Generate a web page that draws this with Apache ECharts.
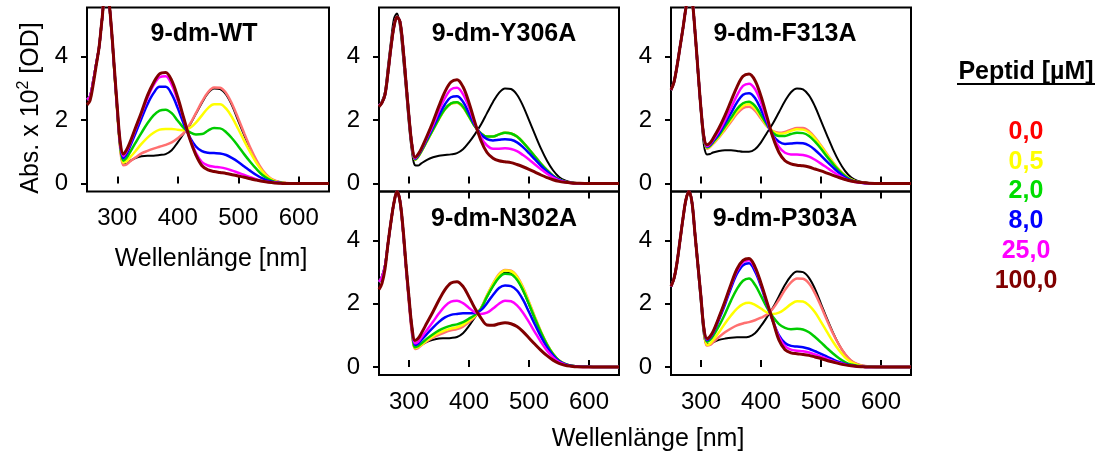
<!DOCTYPE html>
<html>
<head>
<meta charset="utf-8">
<script src="https://cdn.jsdelivr.net/npm/echarts@6/dist/echarts.min.js"></script>
<style>
  html, body { margin: 0; padding: 0; background: #fff; }
  #show_picture { width: 1100px; height: 455px; }
</style>
</head>
<body>
<div id="show_picture"></div>
<script>
// wavelength grid [nm]
const WL = [250, 255, 260, 265, 270, 275, 280, 285, 290, 295, 300, 305,
  310, 315, 320, 330, 340, 350, 360, 370, 380, 390, 400, 410, 420, 430, 440, 450, 460, 470,
  480, 490, 500, 510, 520, 530, 540, 550, 560, 570, 580, 600, 620, 650];

const PANELS = ['9-dm-WT', '9-dm-Y306A', '9-dm-F313A', '9-dm-N302A', '9-dm-P303A'];
const PEPTID = ['0,0', '0,5', '2,0', '8,0', '25,0', '100,0'];
const X_TICKS = [300, 400, 500, 600];
const Y_TICKS = [0, 2, 4];

// 9-dm-WT
const wtRef = [2.65, 2.75, 3.2, 3.75, 4.3, 5.2, 5.9, 5.85, 4.95, 3.6, 2.25, 1.1,
  0.62, 0.62, 0.7, 0.8, 0.86, 0.88, 0.88, 0.9, 0.93, 1.05, 1.3, 1.58, 1.85, 2.2, 2.55, 2.85, 3.0, 2.98,
  2.8, 2.45, 1.98, 1.52, 1.08, 0.7, 0.4, 0.2, 0.09, 0.04, 0.02, 0.01, 0, 0];
const wt0 = [2.65, 2.75, 3.2, 3.75, 4.3, 5.2, 5.9, 5.85, 4.95, 3.6, 2.25, 1.08,
  0.58, 0.6, 0.68, 0.82, 0.95, 1.03, 1.1, 1.16, 1.22, 1.3, 1.43, 1.6, 1.87, 2.22, 2.58, 2.88, 3.03, 3.02,
  2.85, 2.5, 2.05, 1.58, 1.13, 0.74, 0.43, 0.22, 0.1, 0.04, 0.02, 0.01, 0, 0];
const wt05 = [2.65, 2.75, 3.2, 3.75, 4.3, 5.2, 5.9, 5.85, 4.95, 3.6, 2.3, 1.15,
  0.66, 0.7, 0.8, 1.02, 1.25, 1.45, 1.6, 1.7, 1.72, 1.72, 1.7, 1.68, 1.75, 1.92, 2.15, 2.38, 2.5, 2.5,
  2.36, 2.08, 1.72, 1.34, 0.98, 0.65, 0.38, 0.19, 0.08, 0.03, 0.01, 0, 0, 0];
const wt2 = [2.65, 2.75, 3.2, 3.75, 4.3, 5.2, 5.9, 5.85, 4.95, 3.62, 2.32, 1.18,
  0.72, 0.8, 0.95, 1.28, 1.6, 1.9, 2.15, 2.3, 2.33, 2.22, 1.98, 1.75, 1.62, 1.55, 1.56, 1.67, 1.75, 1.74,
  1.62, 1.42, 1.18, 0.92, 0.68, 0.46, 0.27, 0.14, 0.06, 0.03, 0.01, 0, 0, 0];
const wt8 = [2.65, 2.75, 3.2, 3.75, 4.3, 5.2, 5.9, 5.85, 4.95, 3.65, 2.35, 1.22,
  0.8, 0.92, 1.12, 1.58, 2.05, 2.5, 2.85, 3.05, 3.05, 2.82, 2.38, 1.88, 1.46, 1.17, 1.02, 0.97, 0.96, 0.95,
  0.9, 0.8, 0.68, 0.54, 0.4, 0.27, 0.16, 0.08, 0.04, 0.02, 0.01, 0, 0, 0];
const wt25 = [2.65, 2.75, 3.2, 3.75, 4.3, 5.2, 5.9, 5.85, 4.95, 3.65, 2.38, 1.25,
  0.87, 1.0, 1.2, 1.7, 2.2, 2.7, 3.1, 3.35, 3.38, 3.12, 2.62, 2.02, 1.42, 0.97, 0.68, 0.57, 0.53, 0.51,
  0.47, 0.41, 0.34, 0.27, 0.2, 0.13, 0.08, 0.05, 0.03, 0.01, 0, 0, 0, 0];
const wt100 = [2.48, 2.62, 3.1, 3.7, 4.3, 5.2, 5.9, 5.85, 4.98, 3.7, 2.42, 1.3,
  0.93, 1.05, 1.25, 1.75, 2.25, 2.78, 3.18, 3.46, 3.5, 3.25, 2.72, 2.06, 1.4, 0.9, 0.56, 0.43, 0.38, 0.35,
  0.32, 0.28, 0.24, 0.2, 0.15, 0.11, 0.07, 0.04, 0.02, 0.01, 0, 0, 0, 0];

// 9-dm-Y306A
const yRef = [2.45, 2.6, 2.9, 3.7, 4.5, 5.2, 5.36, 4.95, 4.0, 2.95, 1.85, 1.0,
  0.58, 0.57, 0.63, 0.75, 0.83, 0.88, 0.9, 0.92, 0.96, 1.08, 1.3, 1.56, 1.86, 2.22, 2.57, 2.86, 3.0, 2.98,
  2.8, 2.45, 2.0, 1.54, 1.1, 0.72, 0.42, 0.21, 0.1, 0.04, 0.02, 0.01, 0, 0];
const y0 = [2.45, 2.55, 2.8, 3.5, 4.3, 4.95, 5.25, 5.1, 4.3, 3.2, 2.1, 1.2,
  0.75, 0.84, 0.99, 1.34, 1.69, 2.04, 2.34, 2.52, 2.55, 2.41, 2.11, 1.8, 1.58, 1.48, 1.48, 1.55, 1.6, 1.58,
  1.48, 1.3, 1.08, 0.85, 0.62, 0.42, 0.25, 0.13, 0.06, 0.03, 0.01, 0, 0, 0];
const y05 = [2.45, 2.55, 2.8, 3.5, 4.3, 4.95, 5.25, 5.1, 4.3, 3.2, 2.1, 1.2,
  0.75, 0.84, 0.99, 1.34, 1.69, 2.04, 2.34, 2.52, 2.55, 2.41, 2.11, 1.8, 1.58, 1.48, 1.48, 1.55, 1.6, 1.58,
  1.48, 1.3, 1.08, 0.85, 0.62, 0.42, 0.25, 0.13, 0.06, 0.03, 0.01, 0, 0, 0];
const y2 = [2.45, 2.55, 2.8, 3.5, 4.3, 4.95, 5.25, 5.1, 4.3, 3.2, 2.1, 1.2,
  0.76, 0.85, 1.0, 1.35, 1.7, 2.05, 2.35, 2.53, 2.56, 2.42, 2.12, 1.8, 1.58, 1.48, 1.48, 1.55, 1.6, 1.58,
  1.48, 1.3, 1.08, 0.85, 0.62, 0.42, 0.25, 0.13, 0.06, 0.03, 0.01, 0, 0, 0];
const y8 = [2.45, 2.55, 2.8, 3.5, 4.3, 4.95, 5.25, 5.1, 4.3, 3.2, 2.1, 1.2,
  0.78, 0.88, 1.03, 1.4, 1.78, 2.15, 2.5, 2.72, 2.75, 2.58, 2.22, 1.83, 1.55, 1.4, 1.36, 1.38, 1.4, 1.38,
  1.3, 1.15, 0.96, 0.76, 0.56, 0.38, 0.23, 0.12, 0.06, 0.03, 0.01, 0, 0, 0];
const y25 = [2.45, 2.55, 2.8, 3.5, 4.3, 4.95, 5.25, 5.1, 4.3, 3.2, 2.1, 1.2,
  0.8, 0.9, 1.06, 1.45, 1.85, 2.3, 2.7, 2.97, 3.02, 2.82, 2.4, 1.88, 1.45, 1.2, 1.1, 1.1, 1.11, 1.09,
  1.02, 0.9, 0.76, 0.6, 0.45, 0.31, 0.19, 0.1, 0.05, 0.02, 0.01, 0, 0, 0];
const y100 = [2.42, 2.55, 2.8, 3.5, 4.3, 4.95, 5.25, 5.1, 4.3, 3.2, 2.1, 1.2,
  0.83, 0.92, 1.08, 1.5, 1.95, 2.45, 2.9, 3.2, 3.27, 3.05, 2.55, 1.92, 1.35, 0.98, 0.8, 0.72, 0.69, 0.66,
  0.6, 0.53, 0.45, 0.36, 0.27, 0.19, 0.12, 0.07, 0.04, 0.02, 0.01, 0, 0, 0];

// 9-dm-F313A
const fRef = [2.95, 3.2, 3.7, 4.3, 4.9, 5.55, 6.0, 5.8, 4.75, 3.45, 2.2, 1.2,
  0.92, 0.93, 0.98, 1.03, 1.05, 1.05, 1.03, 1.0, 1.0, 1.08, 1.3, 1.6, 1.9, 2.25, 2.6, 2.88, 3.0, 2.97,
  2.78, 2.43, 1.98, 1.52, 1.08, 0.7, 0.4, 0.2, 0.09, 0.04, 0.02, 0.01, 0, 0];
const f0 = [2.95, 3.2, 3.7, 4.3, 4.9, 5.55, 6.0, 5.8, 4.8, 3.55, 2.35, 1.45,
  1.1, 1.15, 1.25, 1.45, 1.7, 1.95, 2.2, 2.38, 2.42, 2.3, 2.05, 1.8, 1.65, 1.6, 1.63, 1.7, 1.75, 1.75,
  1.65, 1.45, 1.2, 0.93, 0.67, 0.44, 0.26, 0.13, 0.06, 0.03, 0.01, 0, 0, 0];
const f05 = [2.95, 3.2, 3.7, 4.3, 4.9, 5.55, 6.0, 5.8, 4.8, 3.55, 2.35, 1.45,
  1.12, 1.17, 1.27, 1.48, 1.74, 2.0, 2.27, 2.45, 2.5, 2.37, 2.1, 1.82, 1.64, 1.57, 1.59, 1.66, 1.71, 1.7,
  1.61, 1.42, 1.18, 0.91, 0.66, 0.43, 0.25, 0.13, 0.06, 0.03, 0.01, 0, 0, 0];
const f2 = [2.95, 3.2, 3.7, 4.3, 4.9, 5.55, 6.0, 5.8, 4.8, 3.55, 2.35, 1.45,
  1.14, 1.19, 1.3, 1.52, 1.8, 2.07, 2.35, 2.53, 2.58, 2.45, 2.16, 1.85, 1.6, 1.5, 1.5, 1.56, 1.6, 1.59,
  1.5, 1.32, 1.1, 0.85, 0.62, 0.41, 0.24, 0.12, 0.06, 0.03, 0.01, 0, 0, 0];
const f8 = [2.95, 3.2, 3.7, 4.3, 4.9, 5.55, 6.0, 5.8, 4.8, 3.55, 2.35, 1.45,
  1.16, 1.21, 1.33, 1.58, 1.9, 2.22, 2.56, 2.8, 2.85, 2.7, 2.33, 1.9, 1.52, 1.32, 1.25, 1.26, 1.28, 1.27,
  1.2, 1.06, 0.88, 0.69, 0.51, 0.34, 0.2, 0.1, 0.05, 0.02, 0.01, 0, 0, 0];
const f25 = [2.95, 3.2, 3.7, 4.3, 4.9, 5.55, 6.0, 5.8, 4.8, 3.55, 2.35, 1.45,
  1.18, 1.24, 1.37, 1.65, 2.0, 2.38, 2.78, 3.08, 3.15, 2.98, 2.55, 2.0, 1.48, 1.15, 0.97, 0.92, 0.92, 0.9,
  0.85, 0.75, 0.63, 0.5, 0.37, 0.25, 0.15, 0.08, 0.04, 0.02, 0.01, 0, 0, 0];
const f100 = [2.95, 3.2, 3.7, 4.3, 4.9, 5.55, 6.0, 5.8, 4.8, 3.55, 2.35, 1.45,
  1.22, 1.28, 1.42, 1.75, 2.15, 2.6, 3.05, 3.38, 3.45, 3.25, 2.75, 2.1, 1.45, 0.98, 0.72, 0.62, 0.58, 0.56,
  0.52, 0.46, 0.4, 0.33, 0.26, 0.19, 0.13, 0.08, 0.05, 0.03, 0.01, 0, 0, 0];

// 9-dm-N302A
const nRef = [2.7, 2.85, 3.2, 3.9, 4.6, 5.2, 5.55, 5.2, 4.25, 3.1, 2.0, 1.05,
  0.6, 0.62, 0.7, 0.8, 0.86, 0.9, 0.91, 0.92, 0.95, 1.07, 1.3, 1.58, 1.87, 2.22, 2.57, 2.85, 2.98, 2.96,
  2.78, 2.43, 1.98, 1.52, 1.08, 0.7, 0.4, 0.2, 0.09, 0.04, 0.02, 0.01, 0, 0];
const n0 = [2.7, 2.85, 3.2, 3.9, 4.6, 5.2, 5.55, 5.2, 4.25, 3.1, 2.0, 1.05,
  0.57, 0.6, 0.68, 0.82, 0.93, 1.02, 1.1, 1.16, 1.2, 1.28, 1.42, 1.6, 1.86, 2.27, 2.64, 2.94, 3.07, 3.05,
  2.87, 2.52, 2.06, 1.58, 1.12, 0.73, 0.42, 0.21, 0.1, 0.04, 0.02, 0.01, 0, 0];
const n05 = [2.7, 2.85, 3.2, 3.9, 4.6, 5.2, 5.55, 5.25, 4.35, 3.2, 2.15, 1.2,
  0.6, 0.63, 0.7, 0.85, 0.98, 1.08, 1.16, 1.22, 1.26, 1.34, 1.47, 1.62, 1.86, 2.26, 2.62, 2.92, 3.05, 3.03,
  2.85, 2.5, 2.04, 1.56, 1.11, 0.72, 0.42, 0.21, 0.1, 0.04, 0.02, 0.01, 0, 0];
const n2 = [2.7, 2.85, 3.2, 3.9, 4.6, 5.2, 5.55, 5.25, 4.35, 3.2, 2.15, 1.2,
  0.63, 0.66, 0.74, 0.9, 1.04, 1.16, 1.25, 1.31, 1.35, 1.42, 1.53, 1.65, 1.85, 2.23, 2.56, 2.83, 2.95, 2.93,
  2.76, 2.43, 1.99, 1.53, 1.09, 0.71, 0.41, 0.21, 0.1, 0.04, 0.02, 0.01, 0, 0];
const n8 = [2.7, 2.85, 3.2, 3.9, 4.6, 5.2, 5.55, 5.25, 4.35, 3.2, 2.15, 1.2,
  0.7, 0.74, 0.84, 1.05, 1.25, 1.43, 1.57, 1.65, 1.68, 1.7, 1.7, 1.71, 1.8, 2.02, 2.28, 2.5, 2.58, 2.56,
  2.42, 2.13, 1.74, 1.34, 0.96, 0.63, 0.37, 0.19, 0.09, 0.04, 0.02, 0.01, 0, 0];
const n25 = [2.7, 2.85, 3.2, 3.9, 4.6, 5.2, 5.55, 5.25, 4.35, 3.2, 2.15, 1.2,
  0.75, 0.8, 0.92, 1.17, 1.43, 1.7, 1.93, 2.07, 2.1, 2.02, 1.87, 1.73, 1.68, 1.72, 1.85, 2.0, 2.1, 2.08,
  1.95, 1.72, 1.42, 1.1, 0.79, 0.52, 0.31, 0.16, 0.08, 0.03, 0.01, 0, 0, 0];
const n100 = [2.45, 2.65, 3.1, 3.9, 4.6, 5.2, 5.55, 5.25, 4.4, 3.25, 2.2, 1.25,
  0.84, 0.9, 1.05, 1.4, 1.75, 2.12, 2.45, 2.66, 2.7, 2.55, 2.22, 1.85, 1.55, 1.33, 1.32, 1.37, 1.4, 1.37,
  1.28, 1.12, 0.92, 0.72, 0.53, 0.36, 0.22, 0.12, 0.06, 0.03, 0.01, 0, 0, 0];

// 9-dm-P303A
const pRef = [2.55, 2.8, 3.3, 4.0, 4.7, 5.3, 5.55, 5.15, 4.1, 3.05, 2.0, 1.0,
  0.72, 0.72, 0.78, 0.86, 0.9, 0.93, 0.94, 0.94, 0.96, 1.07, 1.3, 1.58, 1.88, 2.24, 2.6, 2.88, 3.02, 3.0,
  2.82, 2.47, 2.0, 1.53, 1.09, 0.71, 0.41, 0.2, 0.09, 0.04, 0.02, 0.01, 0, 0];
const p0 = [2.55, 2.8, 3.3, 4.0, 4.7, 5.3, 5.55, 5.2, 4.2, 3.2, 2.2, 1.2,
  0.68, 0.7, 0.78, 0.95, 1.1, 1.22, 1.32, 1.38, 1.42, 1.48, 1.56, 1.66, 1.85, 2.13, 2.44, 2.68, 2.8, 2.79,
  2.64, 2.33, 1.92, 1.48, 1.06, 0.7, 0.41, 0.21, 0.1, 0.04, 0.02, 0.01, 0, 0];
const p05 = [2.55, 2.8, 3.3, 4.0, 4.7, 5.3, 5.55, 5.2, 4.2, 3.2, 2.2, 1.2,
  0.7, 0.74, 0.85, 1.1, 1.38, 1.63, 1.85, 1.99, 2.03, 1.97, 1.85, 1.73, 1.68, 1.72, 1.84, 1.99, 2.08, 2.07,
  1.95, 1.73, 1.43, 1.11, 0.8, 0.53, 0.31, 0.16, 0.08, 0.03, 0.01, 0, 0, 0];
const p2 = [2.55, 2.8, 3.3, 4.0, 4.7, 5.3, 5.55, 5.2, 4.2, 3.2, 2.2, 1.2,
  0.8, 0.86, 0.98, 1.3, 1.68, 2.1, 2.47, 2.73, 2.8, 2.6, 2.25, 1.88, 1.58, 1.36, 1.24, 1.2, 1.21, 1.19,
  1.1, 0.95, 0.78, 0.6, 0.43, 0.28, 0.16, 0.08, 0.04, 0.02, 0.01, 0, 0, 0];
const p8 = [2.55, 2.8, 3.3, 4.0, 4.7, 5.3, 5.55, 5.2, 4.2, 3.2, 2.2, 1.2,
  0.85, 0.92, 1.06, 1.5, 1.98, 2.5, 2.95, 3.22, 3.28, 3.02, 2.55, 1.98, 1.45, 1.0, 0.76, 0.67, 0.65, 0.63,
  0.58, 0.5, 0.42, 0.33, 0.24, 0.16, 0.1, 0.05, 0.03, 0.01, 0, 0, 0, 0];
const p25 = [2.55, 2.8, 3.3, 4.0, 4.7, 5.3, 5.55, 5.2, 4.2, 3.2, 2.2, 1.2,
  0.88, 0.95, 1.1, 1.56, 2.05, 2.58, 3.05, 3.32, 3.38, 3.12, 2.62, 2.02, 1.45, 0.95, 0.66, 0.55, 0.52, 0.5,
  0.46, 0.4, 0.33, 0.26, 0.19, 0.13, 0.08, 0.04, 0.02, 0.01, 0, 0, 0, 0];
const p100 = [2.55, 2.8, 3.3, 4.0, 4.7, 5.3, 5.55, 5.2, 4.2, 3.2, 2.2, 1.2,
  0.9, 0.97, 1.12, 1.58, 2.08, 2.62, 3.1, 3.37, 3.43, 3.17, 2.65, 2.05, 1.45, 0.85, 0.55, 0.45, 0.42, 0.4,
  0.37, 0.32, 0.27, 0.21, 0.16, 0.11, 0.07, 0.04, 0.02, 0.01, 0, 0, 0, 0];

const CURVES = [
  [wtRef, wt0, wt05, wt2, wt8, wt25, wt100],
  [yRef, y0, y05, y2, y8, y25, y100],
  [fRef, f0, f05, f2, f8, f25, f100],
  [nRef, n0, n05, n2, n8, n25, n100],
  [pRef, p0, p05, p2, p8, p25, p100]
];

// styling
const FONT = "'Liberation Sans', Arial, sans-serif";
const LINE_COLORS = ['#000000', '#ff7070', '#ffff00', '#00cc00', '#0000ff', '#ff00ff', '#800000'];
const LINE_WIDTHS = [2, 2.5, 2.5, 2.5, 2.5, 2.5, 3];
const TEXT_COLORS = ['#ff0000', '#ffff00', '#00dd00', '#0000ff', '#ff00ff', '#800000'];

const GRIDS = [
  { left: 87, top: 7.5, width: 242, height: 184 },
  { left: 379, top: 7.5, width: 240, height: 184 },
  { left: 671, top: 7.5, width: 240, height: 184 },
  { left: 379, top: 191.5, width: 240, height: 183.5 },
  { left: 671, top: 191.5, width: 240, height: 183.5 }
];
const TITLE_POS = [[204, 34], [504, 34], [785, 34], [504, 219], [785, 219]];
const SHOW_X_LABELS = [true, false, false, true, true];

let show_picture = document.getElementById('show_picture');
let myChart = echarts.init(show_picture, null, { renderer: 'canvas' });

let grid = GRIDS.map(g => Object.assign({
  show: true, borderColor: '#000', borderWidth: 2, backgroundColor: 'transparent'
}, g));

let xAxis = GRIDS.map((g, i) => ({
  gridIndex: i, type: 'value', min: 250, max: 650, position: 'bottom',
  axisLine: { show: false },
  splitLine: { show: false },
  axisTick: { show: true, inside: true, length: 7, customValues: X_TICKS, lineStyle: { color: '#000', width: 2 } },
  axisLabel: { show: SHOW_X_LABELS[i], customValues: X_TICKS, fontSize: 24, color: '#000', fontFamily: FONT, margin: 15 }
}));
// top tick marks of the lower panels
[3, 4].forEach(i => xAxis.push({
  gridIndex: i, type: 'value', min: 250, max: 650, position: 'top',
  axisLine: { show: false }, splitLine: { show: false }, axisLabel: { show: false },
  axisTick: { show: true, inside: true, length: 7, customValues: X_TICKS, lineStyle: { color: '#000', width: 2 } }
}));

let yAxis = GRIDS.map((g, i) => ({
  gridIndex: i, type: 'value', min: -0.25, max: 5.55,
  axisLine: { show: false },
  splitLine: { show: false },
  axisTick: { show: true, inside: false, length: 6, customValues: Y_TICKS, lineStyle: { color: '#000', width: 2 } },
  axisLabel: { customValues: Y_TICKS, fontSize: 24, color: '#000', fontFamily: FONT, margin: 19 }
}));

let series = [];
CURVES.forEach((set, p) => {
  set.forEach((arr, c) => {
    series.push({
      type: 'line', xAxisIndex: p, yAxisIndex: p,
      data: WL.map((w, k) => [w, arr[k]]),
      smooth: 0.35, symbol: 'none', clip: true, silent: true,
      lineStyle: { color: LINE_COLORS[c], width: LINE_WIDTHS[c] }
    });
  });
});

let graphic = [];
PANELS.forEach((name, i) => {
  graphic.push({
    type: 'text', x: TITLE_POS[i][0], y: TITLE_POS[i][1], z: 100,
    style: { text: name, font: 'bold 25px ' + FONT, fill: '#000', textAlign: 'center', textVerticalAlign: 'middle' }
  });
});
// axis names
graphic.push({
  type: 'text', x: 31, y: 108, rotation: Math.PI / 2, z: 100,
  style: {
    text: '{n|Abs. x 10}{s|2}{n| [OD]}', textAlign: 'center', textVerticalAlign: 'middle',
    rich: {
      n: { fontSize: 25, fontFamily: FONT, fill: '#000', lineHeight: 30 },
      s: { fontSize: 16, fontFamily: FONT, fill: '#000', verticalAlign: 'top', lineHeight: 20 }
    }
  }
});
graphic.push({
  type: 'text', x: 211, y: 259, z: 100,
  style: { text: 'Wellenlänge [nm]', font: '25px ' + FONT, fill: '#000', textAlign: 'center', textVerticalAlign: 'middle' }
});
graphic.push({
  type: 'text', x: 648, y: 439, z: 100,
  style: { text: 'Wellenlänge [nm]', font: '25px ' + FONT, fill: '#000', textAlign: 'center', textVerticalAlign: 'middle' }
});
// peptide key
graphic.push({
  type: 'text', x: 1026, y: 72, z: 100,
  style: { text: 'Peptid [µM]', font: 'bold 25px ' + FONT, fill: '#000', textAlign: 'center', textVerticalAlign: 'middle' }
});
graphic.push({
  type: 'line', z: 100,
  shape: { x1: 957, y1: 84, x2: 1095, y2: 84 },
  style: { stroke: '#000', lineWidth: 2 }
});
PEPTID.forEach((t, i) => {
  graphic.push({
    type: 'text', x: 1026, y: 132 + i * 29.8, z: 100,
    style: { text: t, font: 'bold 25px ' + FONT, fill: TEXT_COLORS[i], textAlign: 'center', textVerticalAlign: 'middle' }
  });
});

let option = {
  backgroundColor: '#fff',
  animation: false,
  grid: grid,
  xAxis: xAxis,
  yAxis: yAxis,
  series: series,
  graphic: graphic
};

option && myChart.setOption(option);
</script>
</body>
</html>
